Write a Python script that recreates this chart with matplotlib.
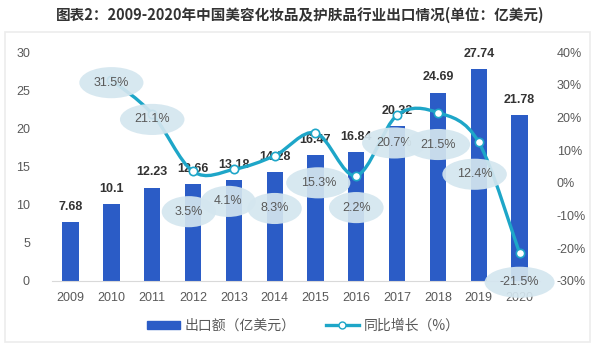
import numpy as np
import matplotlib.pyplot as plt
from matplotlib.path import Path
from matplotlib.patches import PathPatch, Rectangle
from matplotlib.lines import Line2D

plt.rcParams['font.family'] = ['Liberation Sans', 'Noto Sans CJK SC', 'DejaVu Sans']

years = ['2009', '2010', '2011', '2012', '2013', '2014', '2015', '2016', '2017', '2018', '2019', '2020']
export = [7.68, 10.1, 12.23, 12.66, 13.18, 14.28, 16.47, 16.84, 20.32, 24.69, 27.74, 21.78]
growth_years = years[1:]
growth = [31.5, 21.1, 3.5, 4.1, 8.3, 15.3, 2.2, 20.7, 21.5, 12.4, -21.5]

# label offsets (points) for the bubbles
bubble_off = [(0, -2), (0, -4), (-3, -29), (-4, -23), (0, -38), (2, -36), (0, -23), (-2, -20), (0, -23), (-3, -23), (0, -21)]

bar_color = '#2b5cc6'
line_color = '#1ea6c8'
grey = '#595959'

fig = plt.figure(figsize=(6, 3.52), dpi=100)
fig.patches.append(Rectangle((5 / 600, 1 - 342 / 352), 585 / 600, 310 / 352, transform=fig.transFigure,
                             fill=False, edgecolor='#ececec', lw=1.2))
fig.text(0.5, 0.958, '图表2：2009-2020年中国美容化妆品及护肤品行业出口情况(单位：亿美元)',
         ha='center', va='center', fontsize=10.5, fontweight='bold', color='#333333',
         family=['Noto Sans CJK SC', 'DejaVu Sans'])

ax = fig.add_axes([0.087, 0.202, 0.813, 0.65])
x = np.arange(len(years))
ax.bar(x, export, width=0.4, color=bar_color, zorder=2)
for xi, v in zip(x, export):
    ax.text(xi, v + 1.2, f'{v:g}', ha='center', va='bottom', fontsize=9,
            fontweight='bold', color='#333333')
ax.set_xlim(-0.45, 11.5)
ax.set_ylim(0, 30)
ax.set_yticks([0, 5, 10, 15, 20, 25, 30])
ax.set_xticks(x)
ax.set_xticklabels(years)
for s in ['top', 'right', 'left']:
    ax.spines[s].set_visible(False)
ax.spines['bottom'].set_color('#d9d9d9')
ax.tick_params(axis='both', length=0, labelsize=9, labelcolor=grey)
ax.tick_params(axis='x', pad=8)
ax.tick_params(axis='y', pad=16)

ax2 = ax.twinx()
ax2.set_ylim(-30, 40)
ax2.set_yticks(range(-30, 41, 10))
ax2.set_yticklabels([f'{t}%' for t in range(-30, 41, 10)])
for s in ax2.spines.values():
    s.set_visible(False)
ax2.tick_params(axis='y', length=0, labelsize=9, labelcolor=grey, pad=12)

# smooth curve (Catmull-Rom as cubic Bezier)
gx = x[1:].astype(float)
gy = np.array(growth, dtype=float)
pts = np.column_stack([gx, gy])
verts = [tuple(pts[0])]
codes = [Path.MOVETO]
for i in range(len(pts) - 1):
    p0 = pts[i - 1] if i > 0 else pts[i]
    p1 = pts[i]
    p2 = pts[i + 1]
    p3 = pts[i + 2] if i + 2 < len(pts) else pts[i + 1]
    c1 = p1 + (p2 - p0) / 6
    c2 = p2 - (p3 - p1) / 6
    verts += [tuple(c1), tuple(c2), tuple(p2)]
    codes += [Path.CURVE4] * 3
ax2.add_patch(PathPatch(Path(verts, codes), fill=False, edgecolor=line_color, lw=2.4, zorder=3))
ax2.plot(gx, gy, 'o', ms=6, mfc='white', mec=line_color, mew=1.2, zorder=4)

for xi, v, off in zip(gx, gy, bubble_off):
    ax2.annotate(f'{v:g}%', (xi, v), xytext=off, textcoords='offset points',
                 ha='center', va='center', fontsize=9, color=grey,
                 bbox=dict(boxstyle='ellipse,pad=0.4', fc='#d4e6ef', ec='none', alpha=0.92), zorder=5)

handles = [Rectangle((0, 0), 1, 1, color=bar_color),
           Line2D([], [], color=line_color, lw=2.4, marker='o', ms=5, mfc='white', mec=line_color)]
leg = fig.legend(handles, ['出口额（亿美元）', '同比增长（%）'], loc='center', bbox_to_anchor=(0.505, 0.075),
                 ncol=2, frameon=False, labelcolor=grey, handlelength=2.4, handleheight=0.5,
                 handletextpad=0.3, columnspacing=2.2,
                 prop={'family': ['Noto Sans CJK SC', 'DejaVu Sans'], 'size': 10})

fig.savefig('out.png', dpi=100)
